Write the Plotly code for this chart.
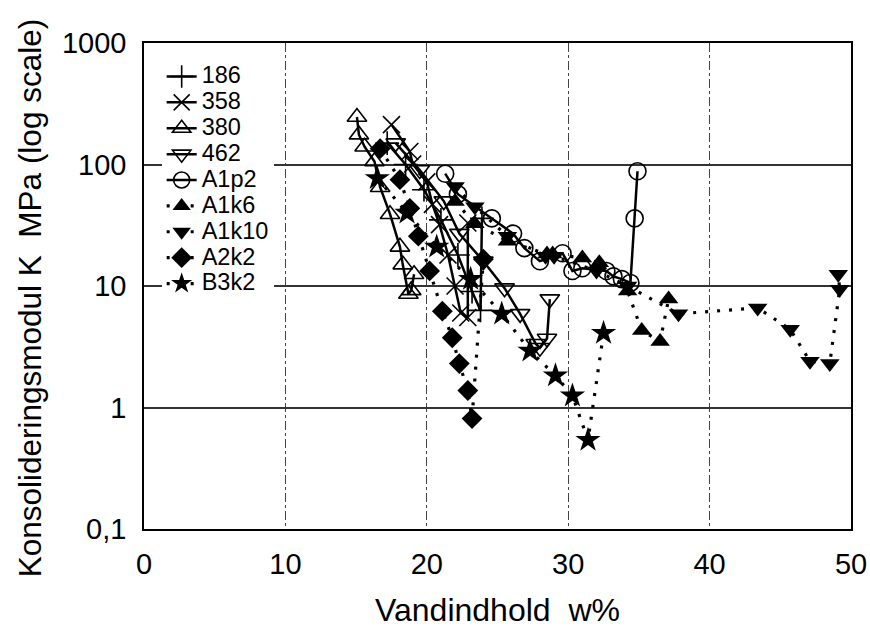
import plotly.graph_objects as go

# ---- data ----
w_186 = [17.2, 18.5, 19.8, 21.0, 22.2, 23.2, 23.8, 23.9]
k_186 = [150, 100, 62, 35, 18, 9.0, 6.3, 36]

w_358 = [17.5, 18.8, 19.0, 20.0, 20.4, 20.9, 21.5, 22.0, 22.4, 22.9, 22.9]
k_358 = [213, 128, 101, 72, 47, 32, 18, 10, 6.0, 5.5, 33]

w_380 = [15.06, 15.2, 15.6, 16.3, 16.7, 17.4, 18.1, 18.3, 18.7, 18.9, 19.1]
k_380 = [246, 176, 140, 106, 65, 39, 21, 15, 8.6, 9.2, 12.5]

w_462 = [17.8, 19.5, 21.2, 22.3, 24.0, 25.5, 26.6, 27.7, 28.0, 28.5, 28.7]
k_462 = [150, 90, 50, 27, 16, 9.6, 5.9, 3.35, 3.1, 3.7, 7.8]

w_a1p2 = [21.3, 22.2, 24.6, 26.1, 26.9, 28.0, 29.6, 30.3, 31.0, 32.7, 33.2, 33.8, 34.4, 34.7, 34.9]
k_a1p2 = [84, 57, 36, 27, 20.5, 16, 18.6, 13.3, 14, 13.3, 12, 11.4, 10.6, 36, 88]

w_a1k6 = [22.0, 23.4, 25.7, 28.5, 28.9, 31.0, 32.2, 34.2, 35.2, 36.5, 37.1]
k_a1k6 = [49.7, 32.6, 23.4, 18.3, 18.3, 17, 15.5, 9.1, 4.3, 3.5, 7.8]

w_a1k10 = [22.0, 23.4, 25.7, 28.4, 29.0, 32.0, 34.2, 37.8, 43.4, 45.7, 47.1, 48.5, 49.2, 49.1]
k_a1k10 = [66, 45, 25.7, 17.6, 17.6, 13.3, 10, 5.9, 6.6, 4.4, 2.4, 2.3, 9.4, 12.5]

w_a2k2 = [16.7, 18.1, 18.8, 19.4, 20.2, 21.1, 21.8, 22.3, 22.9, 23.2, 24.0]
k_a2k2 = [135, 75, 43.6, 25.7, 13.3, 6.2, 3.75, 2.3, 1.38, 0.81, 16.6]

w_b3k2 = [16.5, 18.6, 20.7, 23.1, 25.3, 27.3, 29.1, 30.3, 31.4, 32.5]
k_b3k2 = [77, 40, 21, 11.4, 5.9, 2.93, 1.83, 1.25, 0.54, 4.1]

y_tickvals = [0.1, 1, 10, 100, 1000]
y_ticktext = ["0,1", "1", "10", "100", "1000"]
x_tickvals = [0, 10, 20, 30, 40, 50]

FONT = "Liberation Sans, Arial, sans-serif"
DOTS = "3px,9px"

series = [
    ("186", w_186, k_186, "cross-thin-open", 17, "solid", 2.5),
    ("358", w_358, k_358, "x-thin-open", 17, "solid", 2.5),
    ("380", w_380, k_380, "triangle-up-open", 17, "solid", 2.5),
    ("462", w_462, k_462, "triangle-down-open", 17, "solid", 2.5),
    ("A1p2", w_a1p2, k_a1p2, "circle-open", 17, "solid", 2.5),
    ("A1k6", w_a1k6, k_a1k6, "triangle-up", 17, DOTS, 3.2),
    ("A1k10", w_a1k10, k_a1k10, "triangle-down", 17, DOTS, 3.2),
    ("A2k2", w_a2k2, k_a2k2, "diamond", 16, DOTS, 3.2),
    ("B3k2", w_b3k2, k_b3k2, "star", 19, DOTS, 3.2),
]

fig = go.Figure()
for name, xs, ys, sym, size, dash, lw in series:
    open_m = sym.endswith("-open")
    fig.add_trace(go.Scatter(
        x=xs, y=ys, name='<span style="font-size:23.5px">' + name + '</span>',
        mode="lines+markers",
        line=dict(color="black", width=lw, dash=dash),
        marker=dict(symbol=sym, size=size, color="black",
                    line=dict(color="black", width=1.6 if open_m else 0)),
    ))

fig.update_layout(
    width=870, height=628,
    margin=dict(l=144, r=19, t=43, b=99),
    paper_bgcolor="white", plot_bgcolor="white",
    font=dict(family=FONT, color="black", size=26),
    showlegend=True,
    legend=dict(x=0.025, y=0.968, xanchor="left", yanchor="top",
                bgcolor="white", borderwidth=0,
                font=dict(size=17.6, family=FONT),
                itemwidth=30, tracegroupgap=0),
    annotations=[dict(
        text="Konsolideringsmodul K\u00a0 MPa (log scale)",
        xref="paper", yref="paper", x=-0.161, y=0.475,
        xanchor="center", yanchor="middle", textangle=-90,
        showarrow=False, font=dict(size=31.5, family=FONT, color="black"),
    )],
)
fig.update_xaxes(
    range=[0, 50], tickvals=x_tickvals, ticks="",
    showgrid=True, gridcolor="#444", gridwidth=1, griddash="dashdot",
    showline=True, linecolor="black", linewidth=1.5, mirror=True,
    zeroline=False, ticklabelstandoff=8, automargin=False,
    tickfont=dict(size=29),
    title=dict(text="Vandindhold\u00a0 w%", font=dict(size=32), standoff=24),
)
fig.update_yaxes(
    type="log", range=[-1, 3], tickvals=y_tickvals, ticktext=y_ticktext, ticks="",
    showgrid=True, gridcolor="#333", gridwidth=1.5,
    showline=True, linecolor="black", linewidth=1.5, mirror=True,
    zeroline=False, ticklabelstandoff=10, automargin=False,
    tickfont=dict(size=29),
)

fig.write_html("out.html")
